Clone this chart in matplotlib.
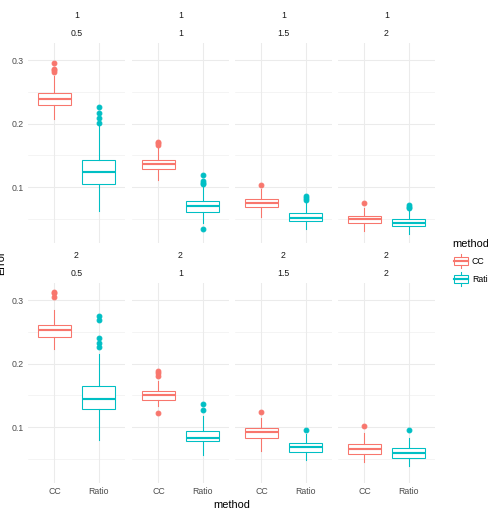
import matplotlib.pyplot as plt
import matplotlib.patches as mpatches
import numpy as np

plt.rcParams['font.family'] = ['Liberation Sans', 'DejaVu Sans']

# facet labels (two strip lines) and x categories
facet_top = ['1', '1', '1', '1', '2', '2', '2', '2']
facet_bot = ['0.5', '1', '1.5', '2', '0.5', '1', '1.5', '2']
methods = ['CC', 'Ratio']
colors = {'CC': '#F8766D', 'Ratio': '#00BFC4'}

# box stats, one entry per facet
cc_med = [0.239, 0.136, 0.075, 0.050, 0.253, 0.150, 0.092, 0.065]
cc_q1 = [0.230, 0.128, 0.0686, 0.044, 0.2425, 0.143, 0.083, 0.057]
cc_q3 = [0.249, 0.143, 0.0816, 0.0544, 0.2613, 0.1566, 0.0984, 0.0728]
cc_lo = [0.208, 0.111, 0.052, 0.0313, 0.2225, 0.1335, 0.0618, 0.0455]
cc_hi = [0.276, 0.162, 0.097, 0.067, 0.284, 0.172, 0.115, 0.0906]
cc_out = [[0.295, 0.287, 0.285, 0.281], [0.171, 0.169, 0.167], [0.1036], [0.0742],
          [0.313, 0.311, 0.305], [0.189, 0.185, 0.180, 0.1215], [0.123], [0.1016]]

ra_med = [0.1245, 0.0695, 0.0513, 0.044, 0.1445, 0.0832, 0.0681, 0.0596]
ra_q1 = [0.105, 0.061, 0.046, 0.0387, 0.1287, 0.0775, 0.0607, 0.0518]
ra_q3 = [0.143, 0.0774, 0.0591, 0.049, 0.1655, 0.0942, 0.0744, 0.0665]
ra_lo = [0.062, 0.043, 0.033, 0.026, 0.080, 0.0565, 0.0477, 0.038]
ra_hi = [0.198, 0.100, 0.077, 0.064, 0.2147, 0.117, 0.0895, 0.0827]
ra_out = [[0.227, 0.217, 0.209, 0.2015], [0.119, 0.110, 0.107, 0.104, 0.033],
          [0.0863, 0.082, 0.079], [0.072, 0.069, 0.0665],
          [0.275, 0.2686, 0.241, 0.233, 0.2268], [0.1357, 0.1262], [0.0948], [0.0958]]

W, H = 488, 514
fig = plt.figure(figsize=(W / 72, H / 72), dpi=72)
fig.patch.set_facecolor('white')


def fx(px):
    return px / W


def fy(py):
    return 1 - py / H


col_left = [28, 132, 235, 338]
pan_w = 97
row_top = [43, 283]
pan_h = 200

all_lo = min(cc_lo + ra_lo + [v for o in cc_out + ra_out for v in o])
all_hi = max(cc_hi + ra_hi + [v for o in cc_out + ra_out for v in o])
pad = 0.05 * (all_hi - all_lo)
ylim = (all_lo - pad, all_hi + pad)

grid_c = '#EBEBEB'
lw = 1.07

for i in range(8):
    r, c = divmod(i, 4)
    ax = fig.add_axes([fx(col_left[c]), fy(row_top[r] + pan_h), fx(pan_w), pan_h / H])

    stats = [
        dict(med=cc_med[i], q1=cc_q1[i], q3=cc_q3[i], whislo=cc_lo[i], whishi=cc_hi[i], fliers=cc_out[i]),
        dict(med=ra_med[i], q1=ra_q1[i], q3=ra_q3[i], whislo=ra_lo[i], whishi=ra_hi[i], fliers=ra_out[i]),
    ]
    for k, m in enumerate(methods):
        col = colors[m]
        ax.bxp([stats[k]], positions=[k + 1], widths=0.75, showcaps=False, patch_artist=True,
               manage_ticks=False,
               boxprops=dict(facecolor='white', edgecolor=col, lw=lw),
               whiskerprops=dict(color=col, lw=lw),
               medianprops=dict(color=col, lw=lw * 2),
               flierprops=dict(marker='o', markerfacecolor=col, markeredgecolor=col,
                               markersize=4.8, linestyle='none'))

    ax.set_xlim(0.4, 2.6)
    ax.set_ylim(*ylim)
    for s in ax.spines.values():
        s.set_visible(False)
    ax.set_yticks([0.1, 0.2, 0.3])
    ax.set_yticks([0.05, 0.15, 0.25], minor=True)
    ax.set_xticks([1, 2])
    ax.grid(True, which='major', color=grid_c, lw=lw)
    ax.grid(True, which='minor', axis='y', color=grid_c, lw=lw / 2)
    ax.set_axisbelow(True)
    ax.tick_params(which='both', length=0, labelsize=8.8, labelcolor='#4D4D4D', pad=4.4)
    if c == 0:
        ax.set_yticklabels(['0.1', '0.2', '0.3'])
    else:
        ax.set_yticklabels([])
    if r == 1:
        ax.set_xticklabels(methods)
    else:
        ax.set_xticklabels([])

    cx = col_left[c] + pan_w / 2
    fig.text(fx(cx), fy(row_top[r] - 27), facet_top[i], ha='center', va='center',
             fontsize=8.8, color='#1A1A1A')
    fig.text(fx(cx), fy(row_top[r] - 9), facet_bot[i], ha='center', va='center',
             fontsize=8.8, color='#1A1A1A')

fig.text(fx(232), fy(505), 'method', ha='center', va='center', fontsize=11)
fig.text(fx(1.5), fy(263), 'Error', ha='center', va='center', fontsize=11, rotation=90)

# legend
fig.text(fx(452), fy(244), 'method', ha='left', va='center', fontsize=11)
key_y = [261, 279]
for m, ky in zip(methods, key_y):
    kax = fig.add_axes([fx(452.4), fy(ky + 8.64), fx(17.28), 17.28 / H])
    kax.set_xlim(0, 1)
    kax.set_ylim(0, 1)
    kax.axis('off')
    col = colors[m]
    kax.plot([0.5, 0.5], [0.1, 0.25], color=col, lw=lw)
    kax.plot([0.5, 0.5], [0.75, 0.9], color=col, lw=lw)
    kax.add_patch(mpatches.Rectangle((0.1, 0.25), 0.8, 0.5, facecolor='white', edgecolor=col, lw=lw))
    kax.plot([0.1, 0.9], [0.5, 0.5], color=col, lw=lw * 2)
    fig.text(fx(472), fy(ky), m, ha='left', va='center', fontsize=8.8)

fig.savefig('out.png', dpi=72, facecolor='white')
